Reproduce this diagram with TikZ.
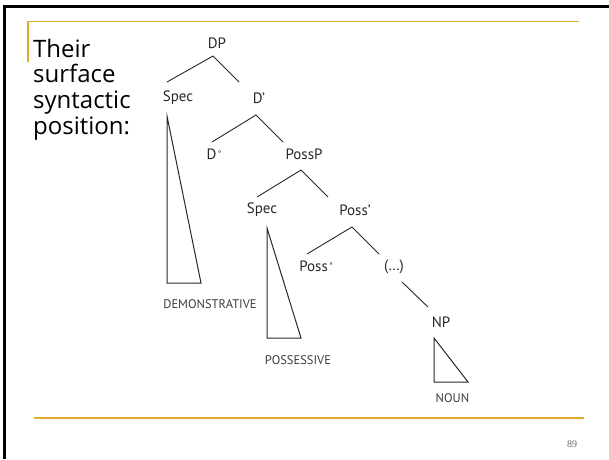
\documentclass[tikz,border=0pt]{standalone}
\usepackage{fontspec}
\setmainfont{PT Sans}
\newfontfamily\bodyfont{Open Sans}
\newfontfamily\numfont{Liberation Serif}
\definecolor{rulegold}{RGB}{222,172,40}
\definecolor{ink}{RGB}{40,40,40}
\tikzset{
  lbl/.style={inner sep=0pt, text=ink, font=\fontsize{15}{15}\selectfont},
  caplbl/.style={inner sep=0pt, text=ink!90, font=\fontsize{12.5}{12.5}\selectfont},
  branch/.style={draw=ink, line width=0.9pt},
  tri/.style={draw=ink, line width=1pt, line join=miter},
  bodytext/.style={anchor=base west, inner sep=0pt, font=\bodyfont\fontsize{24}{26}\selectfont},
  goldrule/.style={draw=rulegold, line width=1.8pt}
}
\newcommand{\degsign}{\kern1.5pt\raisebox{2.5pt}{\fontsize{8}{8}\selectfont °}}
\begin{document}
\begin{tikzpicture}[x=1pt,y=-1pt]
\useasboundingbox (0,0) rectangle (609,459);
\fill[white] (0,0) rectangle (609,459);

% slide frame
\fill[black] (3,5) rectangle (609,8);
\fill[black] (3,5) rectangle (6,459);
\draw[goldrule] (28,62) -- (28,21.5) -- (579,21.5);
\draw[goldrule] (34,418) -- (584,418);

% title text
\node[bodytext] (t1) at (33,57) {Their};
\node[bodytext] (t2) at (33,82.7) {surface};
\node[bodytext] (t3) at (33,108.3) {syntactic};
\node[bodytext] (t4) at (33,134) {position:};

% tree labels
\node[lbl] (dp)    at (217,43)  {DP};
\node[lbl] (spec1) at (178,98)  {Spec};
\node[lbl] (dbar)  at (259,98)  {D’};
\node[lbl] (dzero) at (214,154) {D\degsign};
\node[lbl] (possp) at (304,154) {PossP};
\node[lbl] (spec2) at (262,210) {Spec};
\node[lbl] (pbar)  at (355,210) {Poss’};
\node[lbl] (pzero) at (316,266) {Poss\degsign};
\node[lbl] (dots)  at (394,267) {(…)};
\node[lbl] (np)    at (441,322) {NP};

\node[caplbl] (dem)  at (210,304) {DEMONSTRATIVE};
\node[caplbl] (poss) at (298,360) {POSSESSIVE};
\node[caplbl] (noun) at (452.5,398) {NOUN};

% branch end points
\coordinate (dp-b)    at (213,56);
\coordinate (spec1-t) at (167,82);
\coordinate (dbar-t)  at (239,82);
\coordinate (dbar-b)  at (256,115);
\coordinate (dzero-t) at (212,142);
\coordinate (possp-t) at (283,142);
\coordinate (possp-b) at (301,170);
\coordinate (spec2-t) at (257,197);
\coordinate (pbar-t)  at (328,197);
\coordinate (pbar-b)  at (352,227);
\coordinate (pzero-t) at (307,254);
\coordinate (dots-t)  at (379,254);
\coordinate (dots-b)  at (402,282);
\coordinate (np-t)    at (428,307);

\draw[branch] (spec1-t) -- (dp-b) -- (dbar-t);
\draw[branch] (dzero-t) -- (dbar-b) -- (possp-t);
\draw[branch] (spec2-t) -- (possp-b) -- (pbar-t);
\draw[branch] (pzero-t) -- (pbar-b) -- (dots-t);
\draw[branch] (dots-b) -- (np-t);

% triangles over the phrases
\draw[tri] (167,116) -- (167,283) -- (201,283) -- cycle;
\draw[tri] (267,228) -- (267,338) -- (301,338) -- cycle;
\draw[tri] (434,338) -- (434,382) -- (468,382) -- cycle;

% page number
\node[inner sep=0pt, text=black!60, font=\numfont\fontsize{10}{10}\selectfont] (pg) at (572,444) {89};
\end{tikzpicture}
\end{document}
